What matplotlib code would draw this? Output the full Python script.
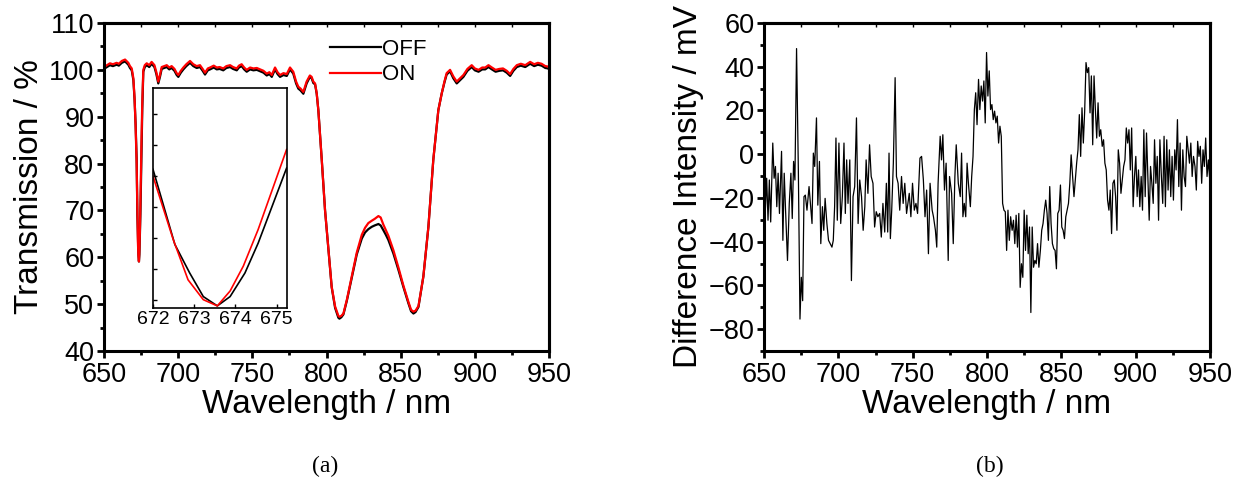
import matplotlib
matplotlib.use("Agg")
import matplotlib.pyplot as plt
from matplotlib.ticker import MultipleLocator

plt.rcParams["font.family"] = ["Liberation Sans", "DejaVu Sans"]

# ---- panel (a): transmission spectra, OFF / ON ----
wl = [650.0, 652.0, 654.0, 656.0, 658.5, 660.0, 662.0, 664.2, 666.4, 667.5,
      668.7, 669.8, 670.6, 671.3, 672.0, 672.49, 672.85, 673.22, 673.56, 673.87,
      674.19, 674.55, 675.24, 675.8, 676.5, 677.5, 678.8, 680.5, 682.1, 684.0,
      685.3, 686.6, 687.8, 688.9, 690.5, 692.3, 694.0, 695.6, 697.5, 699.0,
      700.1, 701.8, 703.5, 705.5, 708.0, 710.2, 712.5, 714.7, 716.5, 718.1,
      720.0, 721.5, 724.0, 726.0, 728.0, 730.4, 732.5, 735.0, 737.0, 739.5,
      741.0, 742.8, 744.5, 746.2, 748.5, 750.7, 753.0, 755.2, 757.5, 759.7,
      761.5, 763.1, 765.3, 767.0, 768.7, 771.0, 773.2, 775.4, 777.6, 779.5,
      781.0, 782.5, 784.4, 786.6, 788.8, 790.0, 791.1, 792.3, 793.4, 794.5,
      796.8, 799.0, 801.3, 803.5, 805.8, 808.0, 808.7, 810.0, 811.4, 813.7,
      817.0, 820.4, 823.8, 826.0, 828.2, 830.5, 832.5, 835.0, 836.5, 838.3,
      840.0, 841.7, 845.1, 848.5, 851.8, 855.2, 857.0, 858.6, 860.0, 862.0,
      865.3, 868.7, 872.0, 875.4, 877.7, 879.5, 881.0, 883.3, 885.5, 887.8,
      890.0, 892.3, 895.0, 897.9, 900.0, 902.5, 905.0, 907.0, 909.2, 911.5,
      914.0, 916.5, 919.0, 921.5, 923.8, 926.0, 928.3, 931.0, 934.0, 937.3,
      940.0, 942.5, 945.0, 947.5, 949.6, 950.0]

t_on = [100.6, 101.0, 101.4, 101.2, 101.5, 101.3, 101.9, 102.2, 101.5, 100.8,
        100.3, 98.2, 94.0, 88.0, 80.0, 69.8, 63.3, 60.1, 59.1, 61.5,
        65.5, 71.4, 84.3, 93.0, 100.0, 101.0, 101.4, 101.0, 101.7, 101.0,
        99.5, 97.5, 99.0, 100.6, 100.8, 101.0, 100.5, 100.8, 100.2, 99.3,
        98.9, 99.8, 100.5, 101.2, 101.9, 101.2, 100.8, 101.0, 100.2, 99.4,
        100.3, 100.5, 100.9, 100.5, 100.6, 100.3, 100.8, 101.0, 100.6, 100.3,
        100.9, 101.2, 100.5, 100.0, 100.5, 100.3, 100.4, 100.1, 99.8, 99.2,
        99.5, 98.9, 100.5, 99.5, 98.9, 99.3, 99.1, 100.5, 99.6, 97.5,
        96.4, 96.0, 95.3, 97.5, 98.8, 98.5, 97.5, 97.1, 95.0, 91.4,
        80.8, 70.1, 61.6, 53.7, 49.5, 47.5, 47.3, 47.5, 48.0, 50.9,
        55.9, 61.0, 64.8, 66.3, 67.3, 67.8, 68.2, 68.8, 68.5, 67.0,
        65.8, 64.6, 61.5, 57.8, 54.0, 50.5, 48.8, 48.4, 48.6, 49.6,
        55.9, 66.5, 80.8, 91.4, 95.0, 97.5, 99.3, 100.0, 98.6, 97.5,
        98.2, 98.9, 100.2, 101.0, 100.3, 100.0, 100.5, 100.5, 101.0, 100.5,
        100.0, 100.2, 100.3, 99.8, 99.1, 100.2, 101.0, 101.3, 101.0, 101.7,
        101.2, 101.5, 101.3, 100.8, 100.7, 100.5]

t_off = [100.2, 100.6, 101.0, 100.8, 101.1, 100.9, 101.5, 101.8, 101.1, 100.4,
         99.9, 97.8, 93.7, 88.5, 81.1, 69.0, 64.4, 60.6, 59.1, 60.6,
         64.4, 69.2, 81.3, 91.5, 99.6, 100.6, 101.0, 100.6, 101.3, 100.6,
         99.1, 97.1, 98.6, 100.2, 100.4, 100.6, 100.1, 100.4, 99.8, 98.9,
         98.5, 99.4, 100.1, 100.8, 101.5, 100.8, 100.4, 100.6, 99.8, 99.0,
         99.9, 100.1, 100.5, 100.1, 100.2, 99.9, 100.4, 100.6, 100.2, 99.9,
         100.5, 100.8, 100.1, 99.6, 100.1, 99.9, 100.0, 99.7, 99.4, 98.8,
         99.1, 98.5, 100.1, 99.1, 98.5, 98.9, 98.7, 100.1, 99.2, 97.1,
         96.0, 95.6, 94.9, 97.1, 98.5, 98.2, 97.2, 96.9, 94.9, 91.4,
         80.8, 70.1, 61.6, 53.6, 49.2, 47.1, 46.9, 47.2, 47.8, 50.7,
         55.6, 60.6, 64.0, 65.3, 66.0, 66.5, 66.8, 67.1, 66.8, 65.8,
         64.8, 63.7, 60.8, 57.3, 53.7, 50.2, 48.5, 48.0, 48.3, 49.4,
         55.9, 66.5, 80.8, 91.4, 95.0, 97.3, 99.0, 99.7, 98.2, 97.1,
         97.8, 98.5, 99.8, 100.6, 99.9, 99.6, 100.1, 100.1, 100.6, 100.1,
         99.6, 99.8, 99.9, 99.4, 98.7, 99.8, 100.6, 100.9, 100.6, 101.3,
         100.8, 101.1, 100.9, 100.4, 100.3, 100.1]

# inset: zoom on the 673 nm dip
wl_in = [672.0, 672.53, 672.89, 673.22, 673.56, 673.87, 674.23, 674.55, 675.24]
off_in = [81.1, 69.0, 64.4, 60.6, 59.1, 60.6, 64.4, 69.2, 81.3]
wl_in_on = [672.0, 672.49, 672.85, 673.22, 673.56, 673.87, 674.19, 674.55, 675.24]
on_in = [80.0, 69.8, 63.3, 60.1, 59.1, 61.5, 65.5, 71.4, 84.3]

# ---- panel (b): difference intensity ----
wl_d = [650.0, 650.9, 651.8, 652.7, 653.6, 654.5, 655.9, 656.8, 657.7, 658.6,
        659.5, 660.4, 661.8, 662.7, 663.6, 664.5, 665.8, 667.0, 668.1, 669.0,
        669.9, 670.8, 671.9, 673.1, 674.2, 675.1, 676.0, 676.9, 677.8, 678.9,
        680.3, 681.2, 682.3, 683.2, 684.1, 685.3, 686.2, 687.3, 688.2, 689.3,
        690.2, 691.1, 692.3, 693.4, 694.5, 695.7, 696.6, 697.5, 698.4, 699.3,
        700.4, 701.6, 702.7, 703.8, 704.7, 705.6, 706.5, 707.7, 708.8, 709.9,
        711.0, 712.2, 713.3, 714.4, 715.6, 716.7, 717.8, 718.7, 719.9, 721.0,
        722.1, 723.3, 724.4, 725.5, 726.6, 727.8, 728.9, 730.0, 731.2, 732.3,
        733.2, 734.1, 735.0, 735.9, 737.0, 738.2, 739.1, 740.2, 741.3, 742.5,
        743.6, 744.7, 745.9, 746.8, 747.7, 748.8, 749.9, 751.1, 752.2, 753.3,
        754.9, 756.0, 757.2, 758.3, 759.4, 760.6, 761.7, 763.1, 764.0, 765.3,
        766.2, 767.1, 768.5, 769.4, 770.3, 771.4, 772.5, 773.9, 774.8, 776.2,
        777.3, 778.4, 779.3, 780.7, 782.0, 782.9, 783.8, 784.7, 785.7, 786.6,
        787.5, 788.8, 789.7, 790.6, 791.5, 792.4, 793.3, 794.3, 795.2, 796.1,
        797.0, 797.9, 798.8, 799.7, 800.6, 801.5, 802.4, 803.3, 804.2, 805.1,
        806.0, 806.9, 807.8, 808.7, 809.6, 810.5, 811.4, 812.3, 813.2, 814.1,
        815.0, 815.9, 816.9, 817.8, 818.7, 819.6, 820.5, 821.4, 822.3, 823.2,
        824.1, 825.0, 825.9, 826.8, 827.7, 828.6, 829.5, 830.4, 831.3, 832.2,
        833.1, 834.0, 834.9, 835.9, 836.8, 837.7, 838.6, 839.5, 840.4, 841.3,
        842.2, 843.1, 844.0, 844.9, 845.8, 846.7, 847.6, 848.5, 849.4, 850.3,
        851.2, 852.1, 853.0, 853.9, 854.8, 855.7, 856.6, 857.6, 858.5, 859.4,
        860.3, 861.2, 862.1, 863.0, 863.9, 864.8, 865.7, 866.6, 867.5, 868.4,
        869.3, 870.2, 871.1, 872.0, 872.9, 873.8, 874.7, 875.6, 876.5, 877.5,
        878.4, 879.3, 880.2, 881.1, 882.0, 882.9, 883.8, 884.7, 885.6, 886.5,
        887.4, 888.3, 889.2, 890.1, 891.0, 891.9, 892.8, 893.7, 894.6, 895.5,
        896.4, 897.3, 898.3, 899.2, 900.1, 901.0, 901.9, 902.8, 903.7, 904.6,
        905.5, 906.4, 907.3, 908.2, 909.1, 910.0, 910.9, 911.8, 912.7, 913.6,
        914.5, 915.4, 916.3, 917.2, 918.2, 919.1, 920.0, 920.9, 921.8, 922.7,
        923.6, 924.5, 925.4, 926.3, 927.2, 928.1, 929.0, 929.9, 930.8, 931.7,
        932.6, 933.5, 934.4, 935.3, 936.2, 937.1, 938.0, 938.9, 939.9, 940.8,
        941.7, 942.6, 943.5, 944.4, 945.3, 946.2, 947.1, 948.0, 948.9, 950.0]

diff = [-10.2, -25.6, -11.0, -30.2, -11.8, -31.0, 5.1, -11.0, -5.6, -24.0,
        -8.7, -27.1, 1.3, -39.4, -8.7, -25.6, -48.6, -22.5, -8.7, -29.4,
        -3.3, -11.8, 48.3, -7.2, -75.4, -56.3, -67.0, -19.4, -18.7, -25.6,
        -14.8, -22.5, -31.7, 0.5, -5.6, 16.6, -23.3, -3.3, -40.9, -24.0,
        -34.8, -20.2, -31.7, -39.4, -40.9, -42.5, -39.4, -24.0, 7.4, -30.2,
        5.1, -31.7, -19.4, 5.1, -27.1, -2.6, -22.5, -2.6, -57.8, -19.4,
        -14.8, 16.6, -31.7, -11.8, -19.4, -34.8, -24.0, -2.6, -17.9, 4.3,
        -10.2, -13.3, -33.3, -26.3, -28.6, -27.1, -37.9, -22.5, -35.6, -13.3,
        -35.6, 0.5, -38.6, -25.6, -4.1, 35.0, -10.2, -13.3, -25.6, -10.2,
        -22.5, -13.3, -27.1, -22.5, -17.9, -28.6, -13.3, -25.6, -22.5, -27.1,
        -1.8, -1.0, -11.8, -28.6, -16.4, -45.5, -13.3, -25.6, -28.6, -34.8,
        -42.5, -13.3, 8.2, -2.6, 8.9, -16.4, -4.1, -48.6, -10.2, -17.9,
        -40.9, -10.2, 4.3, -13.3, -19.4, 0.5, -28.6, -22.5, -28.6, -4.1,
        -13.3, -24.0, -10.2, -1.0, 20.4, 28.1, 13.5, 34.2, 20.4, 31.2,
        24.3, 33.5, 14.3, 46.5, 26.6, 38.1, 20.4, 22.7, 15.8, 19.7,
        14.3, 17.4, 5.1, 12.8, 8.2, -22.5, -25.6, -26.3, -44.0, -25.6,
        -39.4, -28.6, -34.8, -30.2, -40.9, -27.9, -42.5, -27.1, -60.9, -50.1,
        -56.3, -25.6, -44.0, -27.9, -45.5, -33.3, -72.4, -33.3, -51.7, -48.6,
        -50.1, -40.9, -51.7, -44.0, -34.8, -31.7, -25.6, -21.0, -27.1, -39.4,
        -14.8, -31.7, -40.9, -43.2, -44.0, -52.4, -27.1, -25.6, -14.1, -33.3,
        -34.8, -38.6, -28.6, -25.6, -22.5, -13.3, -0.3, -10.2, -19.4, -11.8,
        -4.1, 2.0, 18.1, -1.0, 21.2, 5.1, 19.7, 41.9, 37.3, 39.6,
        18.9, 35.8, 4.3, 35.8, 20.4, 7.4, 23.5, 8.2, 11.2, 3.6,
        6.6, -4.1, -7.2, -21.0, -25.6, -16.4, -36.3, -13.3, -11.8, -19.4,
        -34.8, 2.0, -4.1, -17.9, -11.8, -5.6, -2.6, 12.0, 5.1, 11.2,
        -7.2, 12.0, -24.0, -10.2, -1.0, -19.4, -7.2, -24.0, -10.2, -25.6,
        11.2, -19.4, 9.7, -10.2, -30.2, -5.6, -13.3, -22.5, 6.6, -13.3,
        -1.0, -30.2, 6.6, -8.7, -22.5, 8.2, -24.0, 6.6, -16.4, 2.0,
        -19.4, -1.0, -21.0, 2.0, -7.2, 15.8, -14.8, 5.1, -25.6, 2.0,
        -10.2, -14.8, 8.2, 2.0, -4.1, 5.1, -10.2, -1.0, -5.6, -16.4,
        5.9, -1.0, 3.6, -13.3, 2.0, -5.6, 7.4, -10.2, -2.6, -13.3]

W, H = 1243, 484
fig = plt.figure(figsize=(W / 100, H / 100), dpi=100)

tick_fs = 19.5
label_fs = 24


def style_axes(ax):
    for s in ax.spines.values():
        s.set_linewidth(2.2)
    ax.tick_params(which="both", direction="out", labelsize=tick_fs, width=2.0)
    ax.tick_params(axis="x", which="both", pad=3)
    ax.tick_params(axis="y", which="both", pad=2)
    ax.tick_params(which="major", length=5)
    ax.tick_params(which="minor", length=3)
    ax.xaxis.set_major_locator(MultipleLocator(50))
    ax.xaxis.set_minor_locator(MultipleLocator(25))
    # mirrored short inward ticks on top / right
    top = ax.secondary_xaxis("top")
    top.set_xticks(range(650, 951, 25))
    top.tick_params(direction="in", length=3, width=1.0, labeltop=False)
    top.spines["top"].set_linewidth(2.2)
    right = ax.secondary_yaxis("right")
    right.tick_params(direction="in", length=0, labelright=False)
    right.spines["right"].set_linewidth(2.2)


# panel (a)
ax1 = fig.add_axes([104 / W, 1 - 351 / H, 445 / W, 328 / H])
ax1.plot(wl, t_off, color="black", lw=1.6, label="OFF")
ax1.plot(wl, t_on, color="red", lw=1.6, label="ON")
ax1.set_xlim(650, 950)
ax1.set_ylim(40, 110)
ax1.yaxis.set_major_locator(MultipleLocator(10))
ax1.yaxis.set_minor_locator(MultipleLocator(5))
style_axes(ax1)
ax1.set_xlabel("Wavelength / nm", fontsize=label_fs, labelpad=1)
ax1.set_ylabel("Transmission / %", fontsize=label_fs, labelpad=3)
ax1.legend(loc="upper left", bbox_to_anchor=(0.483, 0.985), frameon=False,
           fontsize=16, handlelength=2.3, handletextpad=0.05, borderpad=0,
           labelspacing=0.2)

ins = fig.add_axes([153 / W, 1 - 308 / H, 134 / W, 220 / H])
ins.plot(wl_in, off_in, color="black", lw=1.2)
ins.plot(wl_in_on, on_in, color="red", lw=1.2)
ins.set_xlim(672, 675.25)
ins.set_ylim(58.76, 94.2)
ins.set_xticks([672, 673, 674, 675])
ins.set_yticks([60, 65, 70, 75, 80, 85, 90])
ins.tick_params(direction="in", labelsize=14, length=3, width=1.0, pad=2)
ins.tick_params(axis="y", labelleft=False)
for s in ins.spines.values():
    s.set_linewidth(1.2)

# panel (b)
ax2 = fig.add_axes([764 / W, 1 - 351 / H, 446 / W, 328 / H])
ax2.plot(wl_d, diff, color="black", lw=0.9)
ax2.set_xlim(650, 950)
ax2.set_ylim(-90, 60)
ax2.yaxis.set_major_locator(MultipleLocator(20))
ax2.yaxis.set_minor_locator(MultipleLocator(10))
style_axes(ax2)
ax2.set_xlabel("Wavelength / nm", fontsize=label_fs, labelpad=1)
ax2.set_ylabel("Difference Intensity / mV", fontsize=label_fs, labelpad=3)

fig.text(325 / W, 1 - 466 / H, "(a)", ha="center", va="center", fontsize=17,
         family="Liberation Serif")
fig.text(990 / W, 1 - 466 / H, "(b)", ha="center", va="center", fontsize=17,
         family="Liberation Serif")

fig.savefig("out.png", dpi=100)
